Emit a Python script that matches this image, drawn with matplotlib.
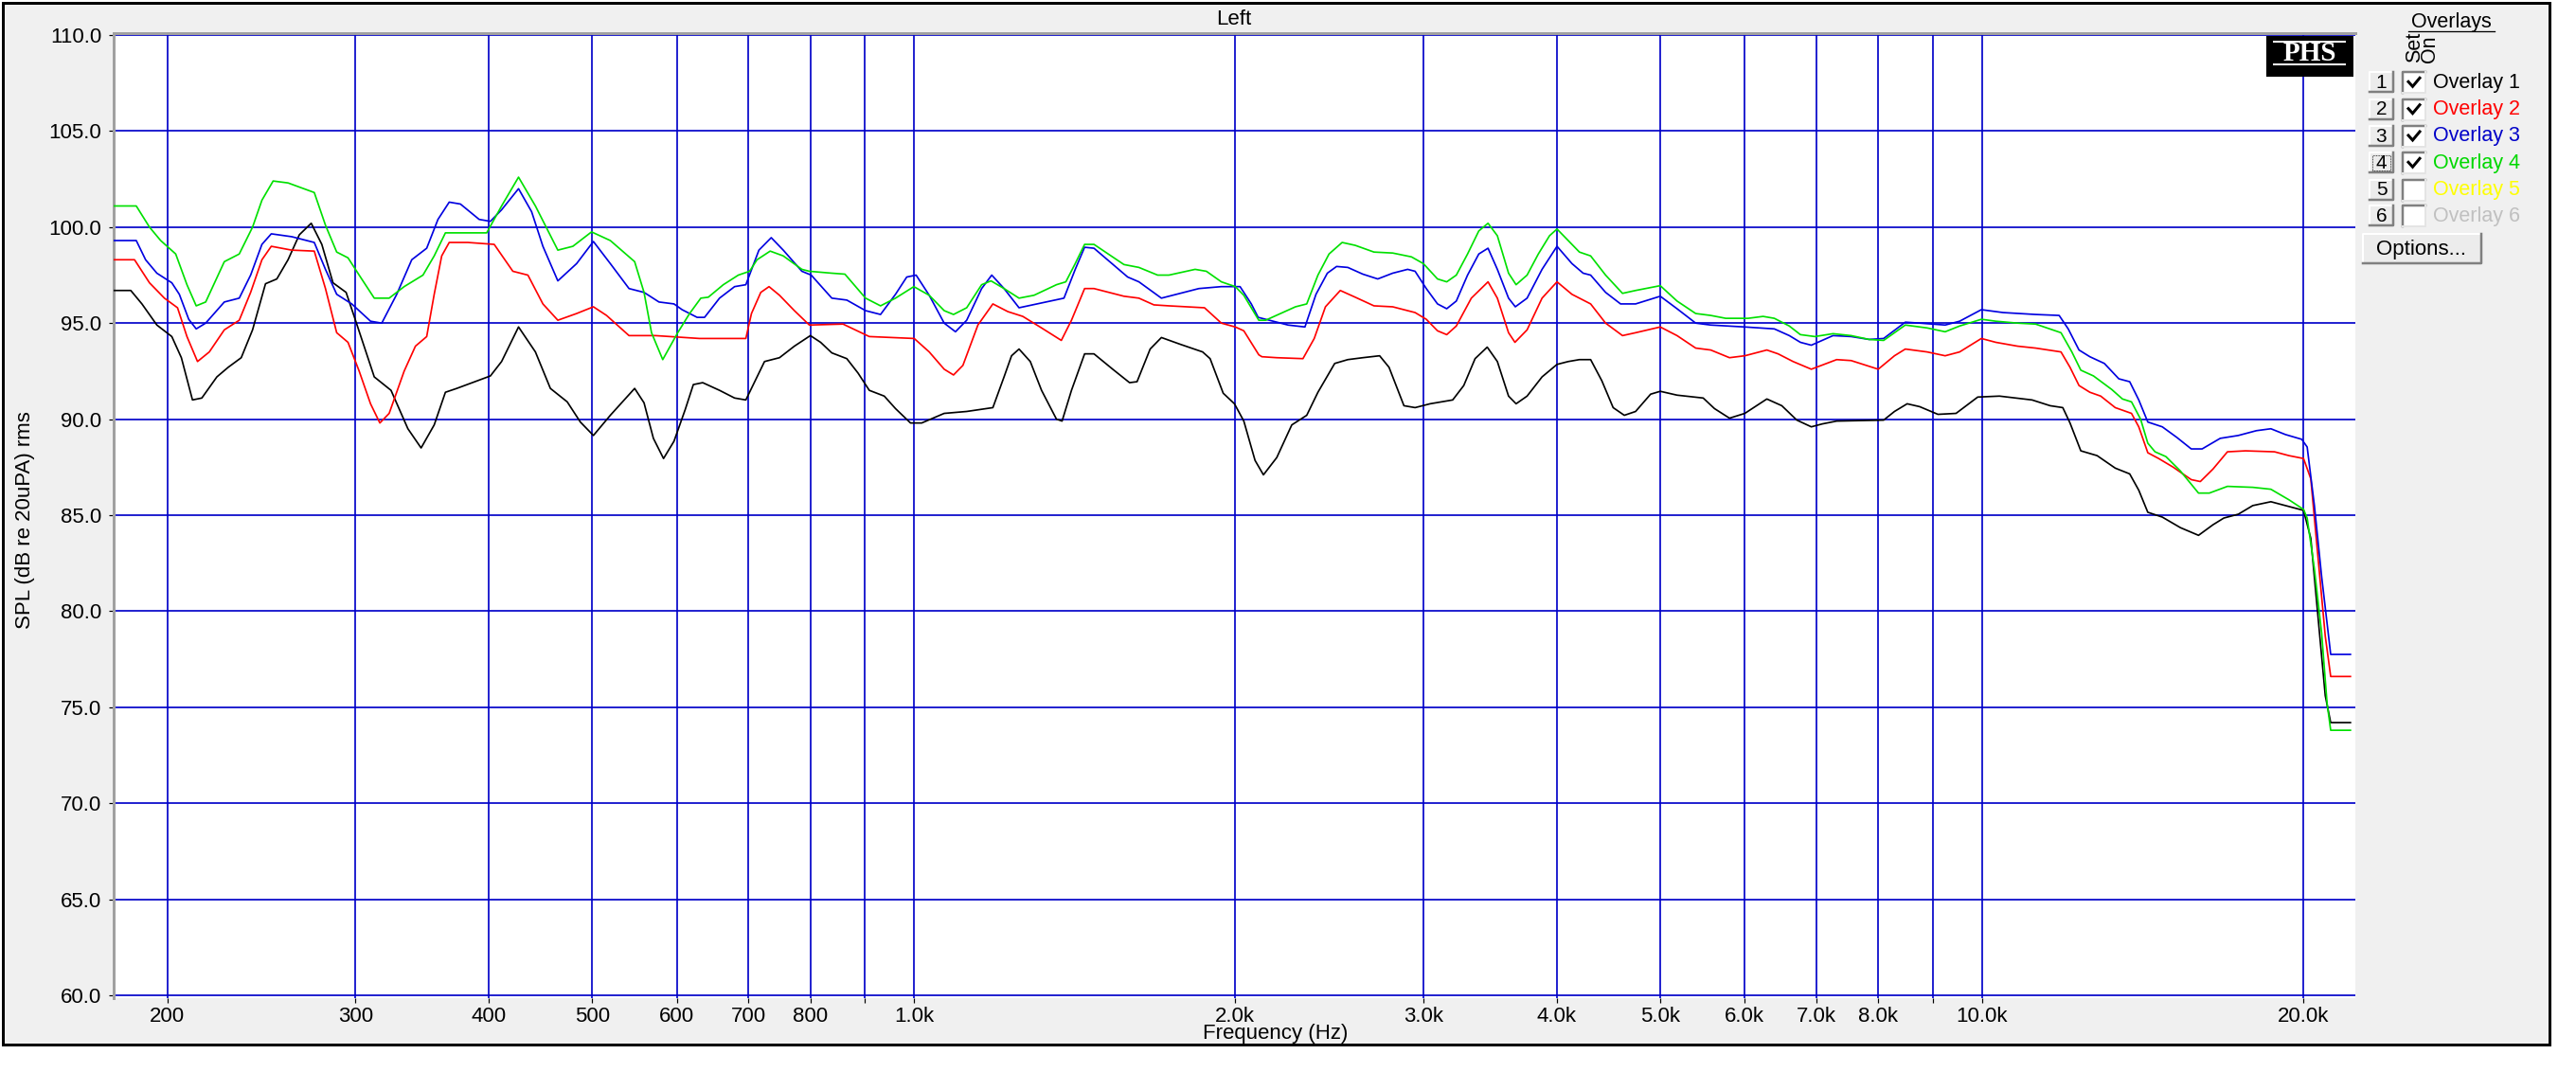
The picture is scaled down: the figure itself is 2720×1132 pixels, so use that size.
import matplotlib
matplotlib.use('Agg')
import matplotlib.pyplot as plt
from matplotlib.patches import Rectangle
from matplotlib.lines import Line2D
import numpy as np

# ---------------- data ----------------
overlay1_freq = [177.4, 184.8, 189.3, 195.5, 201.9, 206.1, 211.1, 215.4, 222.5, 228.0, 234.5, 240.3, 247.1, 253.2,
                 259.4, 265.8, 272.7, 279.0, 285.8, 294.0, 300, 312.4, 323.9, 335.9, 345.6, 355.5, 364.2, 373.2,
                 401.3, 411.1, 426.4, 442.2, 456.7, 473.6, 487.2, 501.1, 519.7, 547.7, 558.9, 570.3, 582.9, 596.2,
                 610.8, 621.6, 634.3, 657.7, 679.4, 696.1, 707.4, 724.7, 748.5, 772.9, 800, 817.9, 837.9, 865.4,
                 886.6, 908.4, 938.2, 961.2, 992.8, 1017.1, 1067.6, 1120.7, 1185.8, 1214.7, 1234.5, 1254.6, 1285.4,
                 1317, 1360, 1376.6, 1404.8, 1445.1, 1474.6, 1535.4, 1592.2, 1618.1, 1664.5, 1705.4, 1775.7, 1863.9,
                 1894.2, 1948.5, 1996.3, 2037, 2087, 2125, 2187, 2259, 2333, 2390, 2478, 2549, 2633, 2730, 2786,
                 2877, 2947, 3044, 3196, 3273, 3354, 3443, 3519, 3605, 3664, 3752, 3875, 4002, 4100, 4200, 4303,
                 4408, 4517, 4627, 4741, 4897, 5000, 5184, 5485, 5620, 5805, 6000, 6292, 6498, 6712, 6925, 7089,
                 7314, 8094, 8285, 8515, 8748, 9099, 9461, 9914, 10390, 11146, 11589, 11910, 12097, 12382, 12825,
                 13336, 13758, 14030, 14306, 14760, 15348, 15959, 16464, 16854, 17389, 17940, 18654, 19245, 20015,
                 20330, 20650, 20975, 21222, 22146]
overlay1_spl = [96.7, 96.7, 96.0, 94.9, 94.3, 93.2, 91.0, 91.1, 92.2, 92.7, 93.2, 94.65, 97.05, 97.3,
                98.3, 99.6, 100.2, 99.1, 97.1, 96.6, 95.15, 92.2, 91.5, 89.5, 88.5, 89.7, 91.4, 91.6,
                92.25, 93.0, 94.8, 93.5, 91.6, 90.9, 89.85, 89.15, 90.2, 91.6, 90.85, 89.0, 87.95, 88.85,
                90.5, 91.8, 91.9, 91.5, 91.1, 91.0, 91.8, 93.0, 93.2, 93.8, 94.35, 94.0, 93.45, 93.15,
                92.4, 91.5, 91.2, 90.55, 89.8, 89.8, 90.3, 90.4, 90.6, 92.2, 93.3, 93.65, 93.0,
                91.5, 90.0, 89.9, 91.5, 93.4, 93.4, 92.6, 91.9, 91.95, 93.65, 94.25, 93.9, 93.5,
                93.15, 91.35, 90.8, 89.9, 87.85, 87.1, 88.0, 89.7, 90.2, 91.4, 92.9, 93.1, 93.2, 93.3, 92.7,
                90.7, 90.6, 90.8, 91.0, 91.75, 93.15, 93.75, 93.0, 91.2, 90.8, 91.2, 92.2, 92.85, 93.0, 93.1, 93.1,
                92.0, 90.6, 90.2, 90.4, 91.3, 91.45, 91.25, 91.1, 90.55, 90.05, 90.3, 91.05, 90.7, 89.95, 89.6, 89.75,
                89.9, 89.95, 90.4, 90.8, 90.65, 90.25, 90.3, 91.15, 91.2, 91.0, 90.7, 90.6, 89.8, 88.35, 88.1,
                87.45, 87.15, 86.3, 85.15, 84.9, 84.35, 83.95, 84.5, 84.85, 85.05, 85.5, 85.7, 85.5, 85.25,
                83.8, 79.7, 75.6, 74.2, 74.2]

overlay2_freq = [177.4, 186.3, 192.4, 198.7, 204.4, 208.6, 213.4, 218.9, 226.1, 233.5, 239.3, 245.2, 250.2, 261.5,
                 274.5, 281.2, 288.1, 295.2, 302.4, 309.9, 316.2, 322.6, 333.2, 341.4, 349.8, 355.5, 361.3, 367.2,
                 382.3, 404.6, 421.2, 435.1, 449.4, 464.1, 483.3, 501.1, 515.5, 541.1, 572.6, 629.9, 696.1, 704.6,
                 718.9, 731.8, 748.5, 772.9, 798.3, 858.4, 908.4, 953.5, 1000.8, 1033.7, 1067.6, 1089.3, 1111.6,
                 1148.1, 1185.8, 1224.6, 1264.8, 1317, 1374.4, 1404.8, 1445.1, 1474.6, 1573, 1624.6, 1678, 1733.2,
                 1871.4, 1940.7, 2000, 2037, 2103.9, 2118, 2187, 2314, 2371, 2429, 2508, 2590, 2697, 2808, 2947,
                 3019, 3093, 3155, 3221, 3327, 3449, 3519, 3605, 3655, 3752, 3875, 4002, 4133, 4303, 4444, 4609,
                 4741, 5000, 5184, 5397, 5575, 5805, 6000, 6292, 6446, 6658, 6925, 7314, 7546, 8000, 8285, 8481,
                 8888, 9242, 9535, 9992, 10309, 10803, 11232, 11864, 12097, 12334, 12626, 12925, 13336, 13812,
                 14030, 14306, 14645, 15110, 15711, 16021, 16464, 16986, 17662, 18800, 19396, 20015, 20330, 20650,
                 20975, 21222, 22146]
overlay2_spl = [98.3, 98.3, 97.1, 96.3, 95.8, 94.3, 93.0, 93.5, 94.65, 95.15, 96.6, 98.3, 99.0, 98.8,
                98.75, 96.8, 94.5, 94.0, 92.5, 90.8, 89.8, 90.3, 92.5, 93.8, 94.3, 96.5, 98.5, 99.2,
                99.2, 99.1, 97.7, 97.5, 96.0, 95.15, 95.5, 95.85, 95.4, 94.35, 94.35, 94.2, 94.2, 95.5,
                96.6, 96.9, 96.45, 95.65, 94.9, 94.95, 94.3, 94.25, 94.2, 93.5, 92.6, 92.3, 92.8,
                94.9, 96.0, 95.6, 95.35, 94.75, 94.1, 95.15, 96.8, 96.8, 96.4, 96.3, 95.95, 95.9,
                95.8, 95.0, 94.8, 94.6, 93.35, 93.25, 93.2, 93.15, 94.2, 95.85, 96.7, 96.35, 95.9, 95.85, 95.55,
                95.2, 94.6, 94.4, 94.85, 96.3, 97.15, 96.3, 94.5, 94.0, 94.65, 96.3, 97.15, 96.5, 96.0, 95.0, 94.35,
                94.5, 94.8, 94.35, 93.7, 93.6, 93.2, 93.3, 93.6, 93.4, 93.0, 92.6, 93.1, 93.05, 92.6, 93.3, 93.65,
                93.5, 93.3, 93.5, 94.2, 94.0, 93.8, 93.7, 93.5, 92.7, 91.75, 91.4, 91.2, 90.6, 90.3,
                89.6, 88.25, 87.95, 87.5, 86.85, 86.75, 87.4, 88.3, 88.35, 88.3, 88.1, 87.95, 86.9, 82.8,
                78.7, 76.6, 76.6]

overlay3_freq = [177.4, 187.0, 190.8, 195.5, 201.9, 205.2, 209.4, 212.8, 217.2, 226.1, 233.5, 239.3, 245.2, 250.2,
                 261.5, 274.5, 281.2, 288.1, 297.6, 309.9, 317.5, 327.9, 338.7, 349.8, 358.4, 367.2, 376.2, 391.7,
                 401.3, 411.1, 426.4, 438.6, 449.4, 464.1, 483.3, 501.1, 519.7, 541.1, 558.9, 577.2, 596.2, 606.7,
                 626.7, 636.8, 657.7, 679.4, 696.1, 716, 735.3, 754.6, 785.5, 801.5, 837.9, 865.4, 901.1, 930.7,
                 961.2, 984.8, 1004.9, 1033.7, 1067.6, 1093.9, 1120.7, 1157.4, 1182.9, 1214.7, 1254.6, 1317,
                 1382.2, 1416.2, 1445.1, 1474.6, 1585.8, 1624.6, 1705.4, 1747.2, 1848.9, 1940.7, 2020.6, 2070.2,
                 2101, 2170, 2241, 2324, 2380, 2439, 2488, 2549, 2633, 2719, 2808, 2900, 2947, 3019, 3093, 3155,
                 3221, 3300, 3381, 3449, 3519, 3605, 3658, 3752, 3875, 4002, 4133, 4234, 4303, 4444, 4590, 4741,
                 5000, 5184, 5397, 5575, 6000, 6394, 6604, 6764, 6925, 7089, 7257, 7546, 7844, 8094, 8481, 8748,
                 9242, 9535, 9992, 10471, 11232, 11817, 12050, 12334, 12626, 13027, 13440, 13758, 14030, 14306,
                 14760, 15229, 15711, 16084, 16723, 17389, 18081, 18654, 19245, 19937, 20172, 20489, 20812, 21222,
                 22146]
overlay3_spl = [99.3, 99.3, 98.3, 97.6, 97.1, 96.5, 95.2, 94.7, 95.0, 96.1, 96.3, 97.5, 99.1, 99.65,
                99.5, 99.2, 97.8, 96.5, 96.0, 95.1, 95.0, 96.5, 98.3, 98.9, 100.4, 101.3, 101.2, 100.4,
                100.3, 100.9, 102.0, 100.8, 99.0, 97.2, 98.1, 99.25, 98.1, 96.8, 96.6, 96.1, 96.0, 95.7,
                95.3, 95.3, 96.3, 96.9, 97.0, 98.8, 99.45, 98.8, 97.7, 97.5, 96.3, 96.2, 95.65, 95.45,
                96.5, 97.4, 97.5, 96.45, 95.0, 94.55, 95.15, 96.8, 97.5, 96.8, 95.8, 96.05,
                96.3, 97.8, 98.95, 98.9, 97.4, 97.15, 96.3, 96.45, 96.8, 96.9, 96.9, 96.0,
                95.3, 95.1, 94.9, 94.8, 96.5, 97.6, 97.95, 97.9, 97.55, 97.3, 97.6, 97.8, 97.7, 96.8, 96.0, 95.75,
                96.15, 97.5, 98.6, 98.9, 97.8, 96.3, 95.85, 96.3, 97.8, 99.0, 98.1, 97.6, 97.5, 96.6, 96.0, 96.0,
                96.4, 95.75, 95.0, 94.9, 94.8, 94.7, 94.35, 94.0, 93.85, 94.1, 94.35, 94.3, 94.15, 94.2, 95.05, 95.0,
                94.9, 95.1, 95.7, 95.55, 95.45, 95.4, 94.7, 93.6, 93.25, 92.9, 92.1, 91.95, 91.0, 89.85,
                89.6, 89.05, 88.45, 88.45, 89.0, 89.15, 89.4, 89.5, 89.2, 88.95, 88.55, 85.5, 81.8, 77.75,
                77.75]

overlay4_freq = [177.4, 187.0, 192.4, 197.1, 203.6, 208.6, 212.8, 217.2, 226.1, 233.5, 240.3, 245.2, 251.2, 259.4,
                 274.5, 281.2, 288.1, 295.2, 302.4, 312.4, 322.6, 333.2, 347.0, 355.5, 364.2, 398.1, 411.1, 426.4,
                 442.2, 464.1, 479.4, 499.1, 519.7, 547.7, 558.9, 568.0, 581.9, 601, 616.6, 631.7, 642.0, 663.1,
                 684.9, 701.7, 713.1, 733.6, 754.6, 785.5, 798.3, 837.9, 861.9, 901.1, 930.7, 961.2, 1000, 1033.7,
                 1067.6, 1089.3, 1120.7, 1157.4, 1181.0, 1214.7, 1254.6, 1295.8, 1360, 1387.8, 1416.2, 1445.1,
                 1474.6, 1573, 1624.6, 1691.6, 1733.2, 1834, 1879, 1940.7, 2000, 2037, 2103.9, 2135, 2205, 2277,
                 2333, 2390, 2448, 2518, 2590, 2697, 2808, 2924, 3000, 3093, 3155, 3221, 3300, 3381, 3449, 3519,
                 3605, 3664, 3752, 3844, 3938, 4002, 4100, 4200, 4303, 4444, 4609, 4741, 5000, 5184, 5397, 5575,
                 5758, 6043, 6241, 6394, 6604, 6764, 6979, 7257, 7546, 7844, 8094, 8481, 8888, 9242, 9535, 9992,
                 10309, 10803, 11232, 11864, 12145, 12382, 12725, 13232, 13545, 13812, 14085, 14306, 14531, 14876,
                 15348, 15959, 16336, 16986, 17940, 18654, 19396, 20015, 20172, 20489, 20812, 21057, 21222, 22146]
overlay4_spl = [101.1, 101.1, 100.0, 99.3, 98.6, 97.0, 95.9, 96.1, 98.2, 98.6, 100.0, 101.4, 102.4, 102.3,
                101.8, 100.1, 98.7, 98.4, 97.5, 96.3, 96.3, 96.9, 97.5, 98.5, 99.7, 99.7, 101.1, 102.6,
                101.1, 98.8, 99.0, 99.75, 99.3, 98.2, 96.6, 94.5, 93.1, 94.5, 95.5, 96.3, 96.35, 97.0,
                97.5, 97.7, 98.3, 98.75, 98.5, 97.8, 97.7, 97.6, 97.55, 96.3, 95.9, 96.3, 96.9, 96.45,
                95.65, 95.45, 95.8, 97.0, 97.2, 96.8, 96.3, 96.45, 97.0, 97.15, 98.1, 99.1,
                99.1, 98.05, 97.9, 97.5, 97.5, 97.8, 97.7, 97.15, 96.9, 96.45, 95.15, 95.15, 95.5, 95.85,
                96.0, 97.5, 98.6, 99.2, 99.05, 98.7, 98.65, 98.45, 98.1, 97.3, 97.15, 97.5, 98.6, 99.8, 100.2, 99.55,
                97.6, 97.0, 97.5, 98.6, 99.55, 99.9, 99.3, 98.7, 98.5, 97.5, 96.55, 96.7, 96.95, 96.15, 95.5, 95.4,
                95.25, 95.25, 95.35, 95.25, 94.85, 94.4, 94.3, 94.45, 94.35, 94.15, 94.1, 94.9, 94.75, 94.55, 94.85, 95.2,
                95.1, 95.0, 94.95, 94.5, 93.5, 92.55, 92.25, 91.55, 91.05, 90.9, 90.0, 88.75, 88.3, 88.05,
                87.3, 86.15, 86.15, 86.5, 86.45, 86.35, 85.8, 85.3, 84.85, 82.2, 78.85, 75.2, 73.8, 73.8]

overlay_names = ['Overlay 1', 'Overlay 2', 'Overlay 3', 'Overlay 4', 'Overlay 5', 'Overlay 6']
overlay_on = [True, True, True, True, False, False]

x_ticks = [200, 300, 400, 500, 600, 700, 800, 900, 1000, 2000, 3000, 4000, 5000, 6000, 7000, 8000, 9000, 10000, 20000]
x_tick_labels = ['200', '300', '400', '500', '600', '700', '800', '', '1.0k', '2.0k', '3.0k', '4.0k', '5.0k',
                 '6.0k', '7.0k', '8.0k', '', '10.0k', '20.0k']
y_ticks = [60, 65, 70, 75, 80, 85, 90, 95, 100, 105, 110]

# ---------------- styles ----------------
W, H = 2720, 1132
PX = 72.0 / 100.0  # points per pixel at dpi 100
FONT = ['Liberation Sans', 'DejaVu Sans']
plt.rcParams['font.family'] = FONT

curve_colors = ['#000000', '#ff0000', '#0000e0', '#00e000']
label_colors = ['#000000', '#ff0000', '#0000c8', '#00d800', '#ffff00', '#c0c0c0']
GRID = '#0000c8'
PANEL = '#f0f0f0'


def fx(x):
    return x / W


def fy(y):
    return 1 - y / H


fig = plt.figure(figsize=(W / 100, H / 100), dpi=100, facecolor='white')

# outer panel with black frame
fig.patches.append(Rectangle((fx(3), fy(1103)), fx(2692) - fx(3), (1103 - 3) / H,
                             transform=fig.transFigure, facecolor=PANEL, edgecolor='black',
                             linewidth=3 * PX, zorder=-10))

# ---------------- axes ----------------
L, R, T, B = 120, 2487, 35, 1054
ax = fig.add_axes([fx(L), fy(B), fx(R) - fx(L), (B - T) / H])
ax.set_zorder(1)
ax.set_facecolor('white')
ax.set_xscale('log')
ax.set_xlim(178.1, 22380)
ax.set_ylim(59.852, 110.099)

for side in ['right', 'bottom']:
    ax.spines[side].set_visible(False)
for side in ['left', 'top']:
    ax.spines[side].set_color('#a0a0a0')
    ax.spines[side].set_linewidth(3 * PX)

ax.set_xticks(x_ticks)
ax.set_xticklabels(x_tick_labels)
ax.xaxis.set_minor_locator(matplotlib.ticker.NullLocator())
ax.set_yticks(y_ticks)
ax.set_yticklabels(['%.1f' % v for v in y_ticks])
ax.tick_params(axis='both', direction='out', length=5 * PX, width=1.2 * PX, color='black',
               labelsize=16, labelcolor='black')
ax.tick_params(axis='y', pad=8 * PX)
ax.tick_params(axis='x', pad=4 * PX)

ax.set_axisbelow(True)
ax.grid(True, which='major', color=GRID, linewidth=1.7 * PX)

series = [(overlay1_freq, overlay1_spl), (overlay2_freq, overlay2_spl),
          (overlay3_freq, overlay3_spl), (overlay4_freq, overlay4_spl)]
for (f, s), c in zip(series, curve_colors):
    ax.plot(f, s, color=c, linewidth=1.7 * PX, solid_joinstyle='round', zorder=3)

# ---------------- texts ----------------
fig.text(fx(1303), fy(20), 'Left', ha='center', va='center', fontsize=16)
fig.text(fx(1347), fy(1091), 'Frequency (Hz)', ha='center', va='center', fontsize=16)
fig.text(fx(27), fy(549), 'SPL (dB re 20uPA) rms', ha='center', va='center', rotation=90, fontsize=16)

# PHS logo
fig.patches.append(Rectangle((fx(2393), fy(81)), fx(2485) - fx(2393), (81 - 38) / H,
                             transform=fig.transFigure, facecolor='black', edgecolor='none', zorder=5))
for yy in (44, 68):
    fig.lines.append(Line2D([fx(2401), fx(2476)], [fy(yy), fy(yy)], transform=fig.transFigure,
                            color='white', linewidth=2 * PX, zorder=6))
fig.text(fx(2439), fy(56.5), 'PHS', ha='center', va='center', fontsize=21, fontweight='bold',
         family=['Liberation Serif', 'DejaVu Serif'], color='white', zorder=7)

# legend header
fig.text(fx(2588), fy(23), 'Overlays', ha='center', va='center', fontsize=15.5)
fig.lines.append(Line2D([fx(2543), fx(2634)], [fy(33), fy(33)], transform=fig.transFigure,
                        color='black', linewidth=1.3 * PX))
fig.text(fx(2550), fy(66), 'Set', ha='center', va='bottom', rotation=90, fontsize=15.5)
fig.text(fx(2566), fy(66), 'On', ha='center', va='bottom', rotation=90, fontsize=15.5)


def raised(x0, y0, x1, y1):
    fig.patches.append(Rectangle((fx(x0), fy(y1)), fx(x1) - fx(x0), (y1 - y0) / H,
                                 transform=fig.transFigure, facecolor='#ececec', edgecolor='none', zorder=5))
    fig.lines.append(Line2D([fx(x0), fx(x0), fx(x1)], [fy(y1), fy(y0), fy(y0)], transform=fig.transFigure,
                            color='white', linewidth=2 * PX, zorder=6))
    fig.lines.append(Line2D([fx(x0), fx(x1), fx(x1)], [fy(y1), fy(y1), fy(y0)], transform=fig.transFigure,
                            color='#808080', linewidth=2.5 * PX, zorder=6))


def sunken(x0, y0, x1, y1):
    fig.patches.append(Rectangle((fx(x0), fy(y1)), fx(x1) - fx(x0), (y1 - y0) / H,
                                 transform=fig.transFigure, facecolor='white', edgecolor='none', zorder=5))
    fig.lines.append(Line2D([fx(x0), fx(x0), fx(x1)], [fy(y1), fy(y0), fy(y0)], transform=fig.transFigure,
                            color='#808080', linewidth=2.5 * PX, zorder=6))
    fig.lines.append(Line2D([fx(x0), fx(x1), fx(x1)], [fy(y1), fy(y1), fy(y0)], transform=fig.transFigure,
                            color='#e4e4e4', linewidth=2 * PX, zorder=6))


row_y = [87.3, 115.7, 144.0, 172.3, 200.7, 228.3]
for i, (name, on, col, cy) in enumerate(zip(overlay_names, overlay_on, label_colors, row_y)):
    raised(2502, cy - 11, 2527, cy + 10)
    fig.text(fx(2514.5), fy(cy), str(i + 1), ha='center', va='center', fontsize=15, zorder=7)
    if i == 3:
        fig.patches.append(Rectangle((fx(2505), fy(cy + 8)), fx(2524) - fx(2505), 16 / H,
                                     transform=fig.transFigure, facecolor='none', edgecolor='black',
                                     linewidth=0.8 * PX, linestyle=(0, (1, 1)), zorder=7))
    sunken(2537, cy - 11, 2561, cy + 11)
    if on:
        fig.lines.append(Line2D([fx(2543), fx(2547.5), fx(2555)], [fy(cy - 1), fy(cy + 4), fy(cy - 5)],
                                transform=fig.transFigure, color='black', linewidth=3 * PX,
                                solid_joinstyle='miter', zorder=8))
    fig.text(fx(2569), fy(cy), name, ha='left', va='center', fontsize=15.5, color=col)

raised(2495, 247, 2620, 278)
fig.text(fx(2557), fy(263), 'Options...', ha='center', va='center', fontsize=16, zorder=7)

fig.savefig('out.png', dpi=100, facecolor='white')
